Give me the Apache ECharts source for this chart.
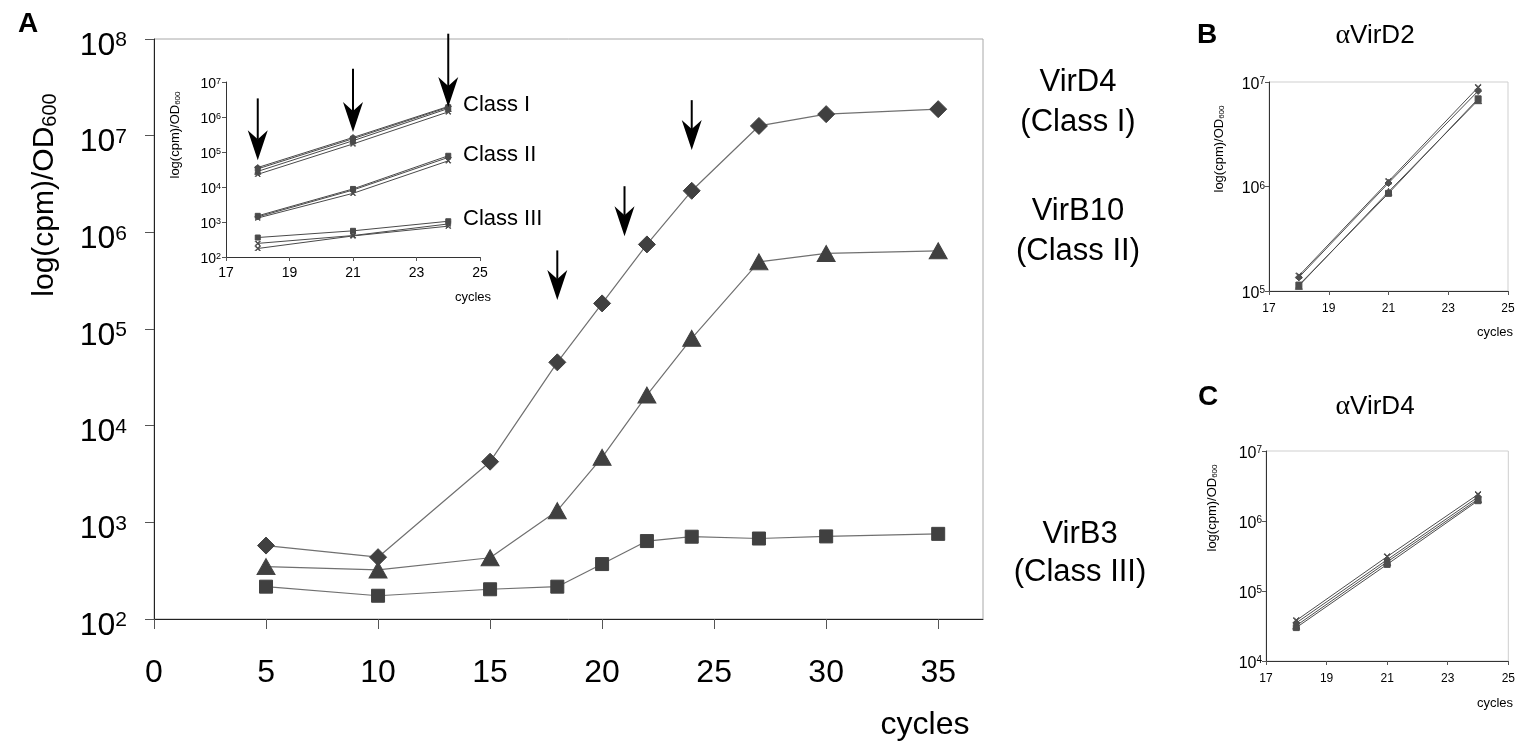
<!DOCTYPE html>
<html><head><meta charset="utf-8">
<script src="https://cdn.jsdelivr.net/npm/echarts@6/dist/echarts.min.js"></script>
<style>html,body{margin:0;padding:0;background:#fff}#c{width:1518px;height:755px}</style>
</head><body><div id="c"></div>
<script>
// ---------- Panel A (main) ----------
const mainCycles = [5, 10, 15, 18, 20, 22, 24, 27, 30, 35];
const virD4  = [575, 436, 4240, 45200, 184000, 750000, 2.69e6, 1.26e7, 1.67e7, 1.88e7];
const virB10 = [348, 322, 430, 1320, 4700, 20700, 80000, 4.95e5, 6.05e5, 6.44e5];
const virB3  = [216, 174, 203, 216, 370, 640, 710, 680, 715, 760];
const mainXTicks = [0, 5, 10, 15, 20, 25, 30, 35];
const mainYTicks = [1e2, 1e3, 1e4, 1e5, 1e6, 1e7, 1e8];
const arrowCycles = [18, 21, 24];
const mainArrowTop = [6.5e5, 3.0e6, 2.33e7];
const mainArrowTip = [2.0e5, 9.1e5, 7.1e6];

// ---------- Panel A inset ----------
const insetCycles = [18, 21, 24];
const insetXTicks = [17, 19, 21, 23, 25];
const classI_1 = [3.6e4, 2.6e5, 2.0e6];
const classI_2 = [3.3e4, 2.4e5, 1.9e6];
const classI_3 = [2.8e4, 2.1e5, 1.75e6];
const classI_4 = [2.3e4, 1.7e5, 1.4e6];
const classII_1 = [1.5e3, 8.8e3, 7.8e4];
const classII_2 = [1.4e3, 8.2e3, 7.0e4];
const classII_3 = [1.3e3, 6.6e3, 5.6e4];
const classIII_1 = [360, 560, 1050];
const classIII_2 = [245, 410, 880];
const classIII_3 = [175, 400, 760];
const insetArrowTop = [3.4e6, 2.4e7, 2.4e8];
const insetArrowTip = [5.8e4, 3.7e5, 1.93e6];

// ---------- Panel B (alpha VirD2) ----------
const bCycles = [18, 21, 24];
const bXTicks = [17, 19, 21, 23, 25];
const b1 = [1.40e5, 1.12e6, 8.9e6];
const b2 = [1.35e5, 1.08e6, 8.2e6];
const b3 = [1.14e5, 8.6e5, 6.9e6];
const b4 = [1.12e5, 8.9e5, 6.7e6];

// ---------- Panel C (alpha VirD4) ----------
const cCycles = [18, 21, 24];
const cXTicks = [17, 19, 21, 23, 25];
const c1 = [3.8e4, 3.1e5, 2.4e6];
const c2 = [3.5e4, 2.8e5, 2.2e6];
const c3 = [3.2e4, 2.6e5, 2.05e6];
const c4 = [3.0e4, 2.4e5, 1.95e6];

const FF = '"Liberation Sans", Arial, Helvetica, sans-serif';
const XSYM = 'path://M1,0L5,4L9,0L10,1L6,5L10,9L9,10L5,6L1,10L0,9L4,5L0,1Z';
const pairs = (xs, ys) => xs.map((x, i) => [x, ys[i]]);
const supFmt = v => '{b|10}{s|' + Math.round(Math.log10(v)) + '}';

function logLabel(size, sup, margin, pad) {
  return {
    formatter: supFmt, margin: margin, padding: [pad, 0, 0, 0],
    rich: {
      b: {fontSize: size, fontFamily: FF, color: '#000', lineHeight: size},
      s: {fontSize: sup, fontFamily: FF, color: '#000', verticalAlign: 'top', lineHeight: sup}
    }
  };
}

function xAxisDef(idx, min, max, ticks, size, margin, tickLen, lineColor) {
  return {
    gridIndex: idx, type: 'value', min: min, max: max,
    axisLine: {show: true, onZero: false, lineStyle: {color: lineColor, width: 1}},
    axisTick: {show: true, length: tickLen, customValues: ticks, lineStyle: {color: '#555'}},
    axisLabel: {customValues: ticks, fontSize: size, fontFamily: FF, color: '#000', margin: margin},
    splitLine: {show: false}
  };
}
function yAxisDef(idx, min, max, ticks, label, tickLen, lineColor) {
  return {
    gridIndex: idx, type: 'log', logBase: 10, min: min, max: max,
    axisLine: {show: true, lineStyle: {color: lineColor, width: 1}},
    axisTick: {show: true, length: tickLen, customValues: ticks, lineStyle: {color: '#555'}},
    axisLabel: Object.assign({customValues: ticks}, label),
    splitLine: {show: false}
  };
}

function arrowRender(params, api) {
  const top = api.coord([api.value(0), api.value(1)]);
  const tip = api.coord([api.value(0), api.value(2)]);
  const hw = 10, hl = 30, notch = 9;
  return {
    type: 'group',
    children: [
      {type: 'line', shape: {x1: top[0], y1: top[1], x2: tip[0], y2: tip[1] - hl + notch},
       style: {stroke: '#000', lineWidth: 2}},
      {type: 'polygon', shape: {points: [[tip[0], tip[1]], [tip[0] - hw, tip[1] - hl],
        [tip[0], tip[1] - hl + notch], [tip[0] + hw, tip[1] - hl]]},
       style: {fill: '#000'}}
    ]
  };
}

function lineSeries(name, ax, xs, ys, sym, size, lineColor, markColor, lw) {
  return {
    name: name, type: 'line', xAxisIndex: ax, yAxisIndex: ax,
    data: pairs(xs, ys), symbol: sym, symbolSize: size, showSymbol: true,
    lineStyle: {color: lineColor, width: lw},
    itemStyle: {color: markColor, borderColor: markColor},
    emphasis: {disabled: true}, z: 3
  };
}

const insetCol = '#4a4a4a';
const smallCol = '#4d4d4d';

const series = [
  lineSeries('VirD4', 0, mainCycles, virD4, 'diamond', 17, '#707070', '#404040', 1.2),
  lineSeries('VirB10', 0, mainCycles, virB10, 'triangle', [18, 16], '#707070', '#404040', 1.2),
  lineSeries('VirB3', 0, mainCycles, virB3, 'rect', 13, '#707070', '#404040', 1.2),
  {type: 'custom', xAxisIndex: 0, yAxisIndex: 0, renderItem: arrowRender, z: 5,
   data: arrowCycles.map((x, i) => [x, mainArrowTop[i], mainArrowTip[i]])},

  lineSeries('I-1', 1, insetCycles, classI_1, 'diamond', 6, insetCol, insetCol, 1),
  lineSeries('I-2', 1, insetCycles, classI_2, 'rect', 5, insetCol, insetCol, 1),
  lineSeries('I-3', 1, insetCycles, classI_3, 'triangle', 6, insetCol, insetCol, 1),
  lineSeries('I-4', 1, insetCycles, classI_4, XSYM, 5, insetCol, insetCol, 1),
  lineSeries('II-1', 1, insetCycles, classII_1, 'rect', 5, insetCol, insetCol, 1),
  lineSeries('II-2', 1, insetCycles, classII_2, 'diamond', 6, insetCol, insetCol, 1),
  lineSeries('II-3', 1, insetCycles, classII_3, XSYM, 5, insetCol, insetCol, 1),
  lineSeries('III-1', 1, insetCycles, classIII_1, 'rect', 5, insetCol, insetCol, 1),
  lineSeries('III-2', 1, insetCycles, classIII_2, XSYM, 5, insetCol, insetCol, 1),
  lineSeries('III-3', 1, insetCycles, classIII_3, XSYM, 5, insetCol, insetCol, 1),
  {type: 'custom', xAxisIndex: 1, yAxisIndex: 1, renderItem: arrowRender, z: 5,
   data: arrowCycles.map((x, i) => [x, insetArrowTop[i], insetArrowTip[i]])},

  lineSeries('B1', 2, bCycles, b1, XSYM, 6, smallCol, smallCol, 1),
  lineSeries('B2', 2, bCycles, b2, 'diamond', 7, smallCol, smallCol, 1),
  lineSeries('B3', 2, bCycles, b3, 'rect', 6, smallCol, smallCol, 1),
  lineSeries('B4', 2, bCycles, b4, 'triangle', 7, smallCol, smallCol, 1),

  lineSeries('C1', 3, cCycles, c1, XSYM, 6, smallCol, smallCol, 1),
  lineSeries('C2', 3, cCycles, c2, 'diamond', 7, smallCol, smallCol, 1),
  lineSeries('C3', 3, cCycles, c3, 'triangle', 7, smallCol, smallCol, 1),
  lineSeries('C4', 3, cCycles, c4, 'rect', 6, smallCol, smallCol, 1)
];

function txt(x, y, text, size, opts) {
  opts = opts || {};
  return {
    type: 'text', x: x, y: y, rotation: opts.rot || 0, z: 10,
    style: {
      text: text, fontSize: size, fontFamily: opts.family || FF, fontWeight: opts.bold ? 'bold' : 'normal',
      fill: '#000', align: opts.align || 'center', verticalAlign: 'middle',
      textAlign: opts.align || 'center', textVerticalAlign: 'middle', rich: opts.rich
    }
  };
}
function odName(x, y, size, sub) {
  return txt(x, y, '{a|log(cpm)/OD}{s|600}', size, {rot: Math.PI / 2, rich: {
    a: {fontSize: size, fontFamily: FF, color: '#000', lineHeight: size},
    s: {fontSize: sub, fontFamily: FF, color: '#000', verticalAlign: 'bottom', lineHeight: sub}
  }});
}
function alphaTitle(x, y, name, size) {
  return txt(x, y, '{g|α}{t|' + name + '}', size, {rich: {
    g: {fontSize: size + 2, fontFamily: '"Liberation Serif", "DejaVu Serif", serif', color: '#000'},
    t: {fontSize: size, fontFamily: FF, color: '#000'}
  }});
}

const option = {
  animation: false,
  backgroundColor: '#fff',
  textStyle: {fontFamily: FF},
  grid: [
    {left: 154, top: 39, width: 829, height: 580, show: true, borderColor: '#a8a8a8', borderWidth: 1, backgroundColor: 'transparent'},
    {left: 226, top: 82, width: 254, height: 175},
    {left: 1269, top: 82, width: 239, height: 209, show: true, borderColor: '#cfcfcf', borderWidth: 1},
    {left: 1266, top: 451, width: 243, height: 210, show: true, borderColor: '#cfcfcf', borderWidth: 1}
  ],
  xAxis: [
    xAxisDef(0, 0, 37, mainXTicks, 32, 38, 10, '#222'),
    xAxisDef(1, 17, 25, insetXTicks, 14, 9, 4, '#333'),
    xAxisDef(2, 17, 25, bXTicks, 12, 12, 4, '#333'),
    xAxisDef(3, 17, 25, cXTicks, 12, 12, 4, '#333')
  ],
  yAxis: [
    yAxisDef(0, 1e2, 1e8, mainYTicks, logLabel(32, 21, 27, 14), 9, '#222'),
    yAxisDef(1, 1e2, 1e7, [1e2, 1e3, 1e4, 1e5, 1e6, 1e7], logLabel(14, 9, 5, 5), 4, '#333'),
    yAxisDef(2, 1e5, 1e7, [1e5, 1e6, 1e7], logLabel(16, 10, 4, 5), 4, '#333'),
    yAxisDef(3, 1e4, 1e7, [1e4, 1e5, 1e6, 1e7], logLabel(16, 10, 4, 5), 4, '#333')
  ],
  series: series,
  graphic: [
    txt(28, 24, 'A', 28, {bold: true}),
    odName(45, 195, 30, 20),
    txt(925, 725, 'cycles', 32),
    txt(1078, 82, 'VirD4', 31),
    txt(1078, 122, '(Class I)', 31),
    txt(1078, 211, 'VirB10', 31),
    txt(1078, 251, '(Class II)', 31),
    txt(1080, 534, 'VirB3', 31),
    txt(1080, 572, '(Class III)', 31),
    txt(463, 105, 'Class I', 22, {align: 'left'}),
    txt(463, 155, 'Class II', 22, {align: 'left'}),
    txt(463, 219, 'Class III', 22, {align: 'left'}),
    odName(175, 135, 13, 8),
    txt(473, 297, 'cycles', 13),
    txt(1207, 35, 'B', 28, {bold: true}),
    alphaTitle(1375, 36, 'VirD2', 26),
    odName(1219, 149, 13, 8),
    txt(1495, 332, 'cycles', 13),
    txt(1208, 397, 'C', 28, {bold: true}),
    alphaTitle(1375, 407, 'VirD4', 26),
    odName(1212, 508, 13, 8),
    txt(1495, 703, 'cycles', 13)
  ]
};
echarts.init(document.getElementById('c')).setOption(option);
</script></body></html>
